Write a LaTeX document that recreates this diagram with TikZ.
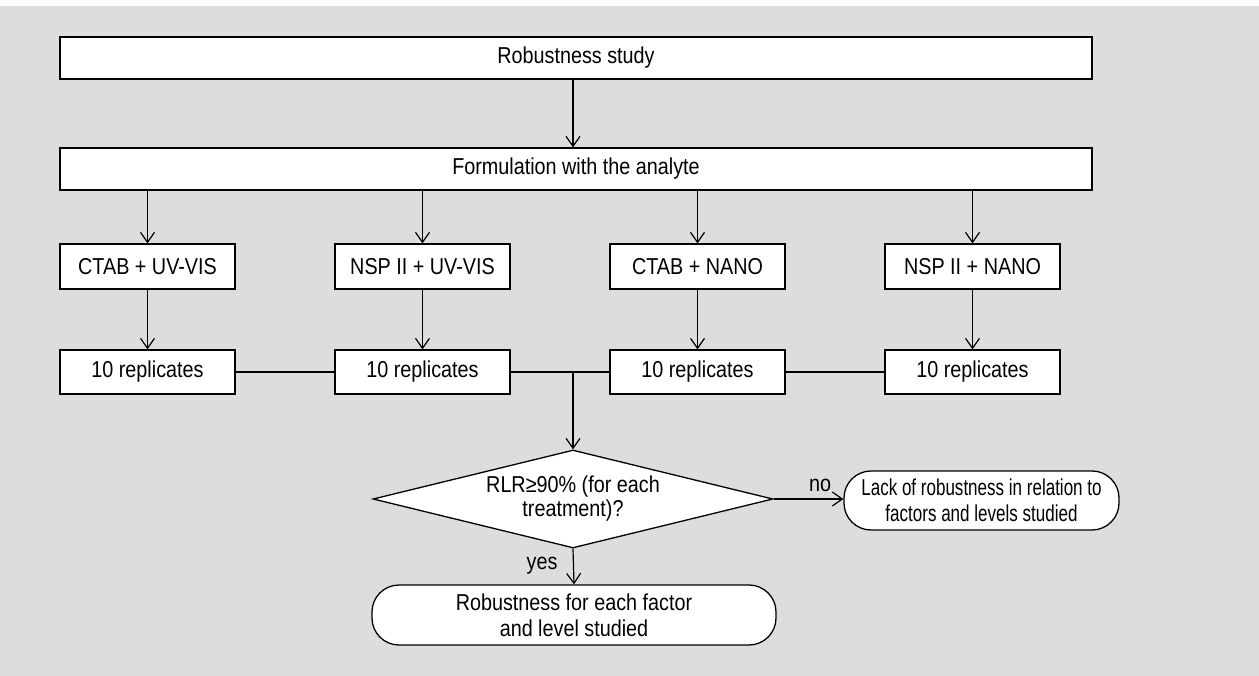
\documentclass[tikz,border=0pt]{standalone}
\usepackage{fontspec}
\setmainfont{Liberation Sans}[FakeStretch=0.86]
\newfontfamily\narrowsans{Liberation Sans}[FakeStretch=0.74]
\usetikzlibrary{shapes.geometric,arrows.meta}
\definecolor{bg}{RGB}{220,221,223}
\begin{document}
\begin{tikzpicture}[x=1pt,y=-1pt,
  box/.style={draw=black, fill=white, line width=1.3pt, inner sep=0pt, align=center,
    font=\fontsize{23}{26}\selectfont},
  wide/.style={box, minimum width=1032pt, minimum height=42pt},
  small/.style={box, minimum width=175pt, minimum height=44pt},
  term/.style={box, rounded corners=27pt},
  decision/.style={box, diamond, aspect=4.08, minimum width=400pt, minimum height=98pt,
    font=\fontsize{23}{24}\selectfont},
  conn/.style={line width=1.2pt},
  arr/.style={conn, -{Straight Barb[length=10pt,width=14pt]}},
  lbl/.style={font=\fontsize{23}{25}\selectfont, inner sep=0pt}
]
\useasboundingbox (0,0) rectangle (1259,676);
\fill[bg] (0,6) rectangle (1259,676);

\node[wide] (top) at (576,58) {Robustness study};
\node[wide] (form) at (576,169) {Formulation with the analyte};

\node[small, minimum height=45pt] (c1) at (147.5,266.5) {CTAB + UV-VIS};
\node[small, minimum height=45pt] (c2) at (422.5,266.5) {NSP II + UV-VIS};
\node[small, minimum height=45pt] (c3) at (697.5,266.5) {CTAB + NANO};
\node[small, minimum height=45pt] (c4) at (972.5,266.5) {NSP II + NANO};

\node[small] (r1) at (147.5,372) {10 replicates};
\node[small] (r2) at (422.5,372) {10 replicates};
\node[small] (r3) at (697.5,372) {10 replicates};
\node[small] (r4) at (972.5,372) {10 replicates};

\node[decision] (dia) at (573,499) {RLR≥90\% (for each\\treatment)?};

\node[term, minimum width=275pt, minimum height=59pt, font=\fontsize{23}{26}\narrowsans] (lack) at (981.5,500.5)
  {Lack of robustness in relation to\\factors and levels studied};
\node[term, minimum width=404pt, minimum height=60pt, font=\fontsize{23}{26}\selectfont] (ok) at (574,615)
  {Robustness for each factor\\and level studied};

\coordinate (jx) at (573,0);

\draw[arr] (top.south -| jx) -- (form.north -| jx);
\foreach \i in {1,2,3,4} {
  \draw[arr] (form.south -| c\i.north) -- (c\i.north);
  \draw[arr] (c\i.south) -- (r\i.north);
}
\draw[conn] (r1.east) -- (r2.west);
\draw[conn] (r2.east) -- (r3.west);
\draw[conn] (r3.east) -- (r4.west);
\draw[arr] (r2.east -| dia.north) -- (dia.north);

\draw[arr] (dia.east) -- (dia.east -| lack.west);
\node[lbl] (nolbl) at (820,485) {no};
\draw[arr] (dia.south) -- (ok.north);
\node[lbl] (yeslbl) at (542,566) {yes};
\end{tikzpicture}
\end{document}
